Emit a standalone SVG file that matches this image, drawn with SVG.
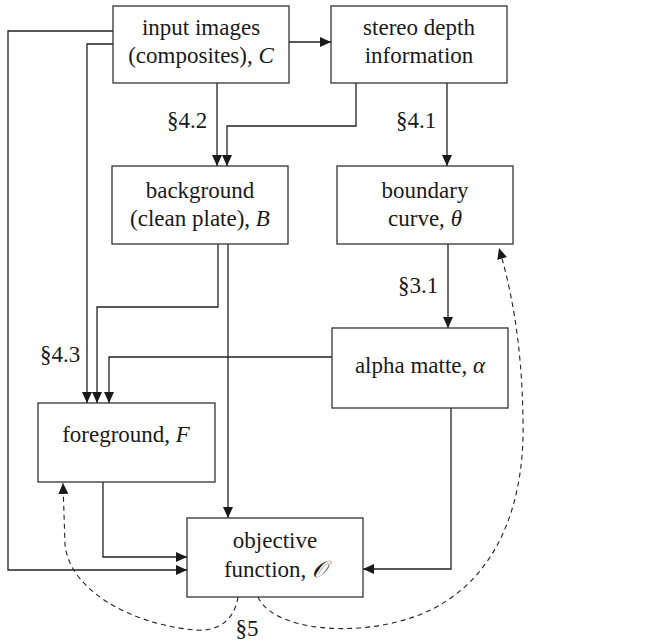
<svg xmlns="http://www.w3.org/2000/svg" width="669" height="641" viewBox="0 0 669 641" font-family="'Liberation Serif','DejaVu Serif',serif">
<style>
.box{fill:#fff;stroke:#333;stroke-width:1.3}
.ln{fill:none;stroke:#222;stroke-width:1.3}
.dash{fill:none;stroke:#222;stroke-width:1.1;stroke-dasharray:5,4}
.t{font-family:'Liberation Serif','DejaVu Serif',serif;font-size:23px;fill:#1a1a1a;text-anchor:middle}
.it{font-style:italic}
</style>
<defs>
<marker id="ah" markerUnits="userSpaceOnUse" markerWidth="11" markerHeight="10" refX="11" refY="5" orient="auto">
<path d="M0,0 L11,5 L0,10 z" fill="#1a1a1a"/>
</marker>
</defs>
<rect width="669" height="641" fill="#fff"/>
<g id="connectors">
<path class="ln" d="M289,42 H331" marker-end="url(#ah)"/>
<path class="ln" d="M217,83 V166" marker-end="url(#ah)"/>
<path class="ln" d="M356,83 V126 H227 V166" marker-end="url(#ah)"/>
<path class="ln" d="M447,83 V166" marker-end="url(#ah)"/>
<path class="ln" d="M448,244 V328" marker-end="url(#ah)"/>
<path class="ln" d="M113,31 H8 V570 H187" marker-end="url(#ah)"/>
<path class="ln" d="M113,44 H87 V403" marker-end="url(#ah)"/>
<path class="ln" d="M218,244 V307 H97 V403" marker-end="url(#ah)"/>
<path class="ln" d="M228,244 V518" marker-end="url(#ah)"/>
<path class="ln" d="M332,357 H109 V403" marker-end="url(#ah)"/>
<path class="ln" d="M451,408 V569 H363" marker-end="url(#ah)"/>
<path class="ln" d="M103,482 V557 H187" marker-end="url(#ah)"/>
<path class="dash" d="M238,597 C235,618 220,632 195,630 C130,624 70,590 65,545 L63,483" marker-end="url(#ah)"/>
<path class="dash" d="M258,597 C275,635 380,640 440,605 C500,570 525,500 523,420 C522,340 510,285 499,248" marker-end="url(#ah)"/>
</g>
<g id="input">
<rect class="box" x="113" y="6" width="176" height="77"/>
<text class="t" x="201" y="35">input images</text>
<text class="t" x="201" y="63">(composites), <tspan class="it">C</tspan></text>
</g>
<g id="stereo">
<rect class="box" x="331" y="6" width="176" height="77"/>
<text class="t" x="419" y="35">stereo depth</text>
<text class="t" x="419" y="63">information</text>
</g>
<g id="background">
<rect class="box" x="112" y="166" width="176" height="78"/>
<text class="t" x="200" y="198">background</text>
<text class="t" x="200" y="226">(clean plate), <tspan class="it">B</tspan></text>
</g>
<g id="boundary">
<rect class="box" x="337" y="166" width="176" height="78"/>
<text class="t" x="425" y="198">boundary</text>
<text class="t" x="425" y="226">curve, <tspan class="it">θ</tspan></text>
</g>
<g id="alpha">
<rect class="box" x="332" y="328" width="176" height="80"/>
<text class="t" x="420" y="373">alpha matte, <tspan class="it">α</tspan></text>
</g>
<g id="foreground">
<rect class="box" x="38" y="403" width="177" height="79"/>
<text class="t" x="126" y="442">foreground, <tspan class="it">F</tspan></text>
</g>
<g id="objective">
<rect class="box" x="187" y="518" width="176" height="79"/>
<text class="t" x="275" y="548">objective</text>
<text class="t" x="275" y="577">function, <tspan class="it">𝒪</tspan></text>
</g>
<g id="labels">
<text class="t" x="187" y="128">§4.2</text>
<text class="t" x="416" y="128">§4.1</text>
<text class="t" x="418" y="293">§3.1</text>
<text class="t" x="60" y="362">§4.3</text>
<text class="t" x="247" y="636">§5</text>
</g>
</svg>
